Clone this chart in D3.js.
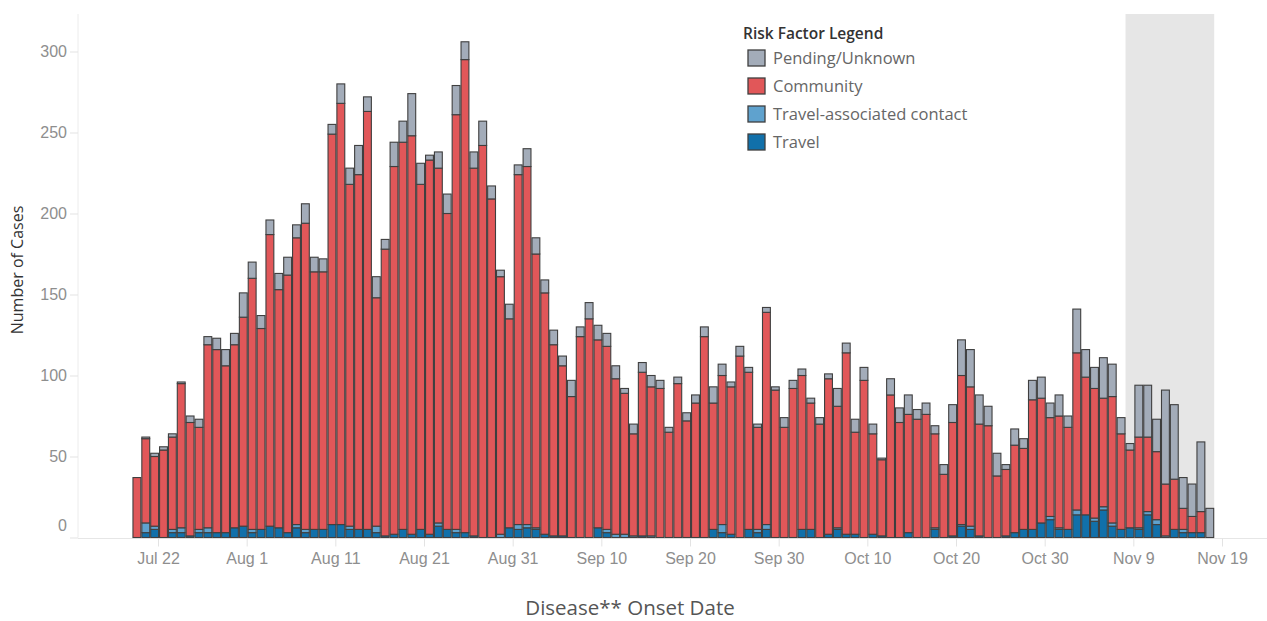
<!DOCTYPE html>
<html><head><meta charset="utf-8">
<script src="https://cdn.jsdelivr.net/npm/d3@7/dist/d3.min.js"></script>
<style>
html,body{margin:0;padding:0;background:#fff;}
svg{display:block;font-family:"Open Sans",sans-serif;}
</style></head>
<body>
<svg id="chart" width="1267" height="621"></svg>
<script>
// ---- data ----
const startDate = new Date(2020, 6, 20);   // Jul 20
const endDate = new Date(2020, 10, 19);    // exclusive (last bar Nov 18)
const travel = [0,3,5,0,3,3,1,3,3,3,3,6,7,3,5,7,6,3,6,3,5,5,8,8,5,5,5,3,1,2,5,2,5,2,7,5,3,3,1,0,0,0,6,5,6,5,2,1,1,0,0,0,6,3,0,0,0,1,0,0,0,0,0,0,0,5,3,2,0,5,3,5,0,0,0,5,5,0,2,5,2,2,0,2,1,0,0,3,0,0,5,0,1,7,5,1,0,0,1,3,5,5,9,11,5,5,14,14,10,17,7,5,6,5,14,8,0,5,3,3,3,0];
const travelContact = [0,6,2,0,2,3,0,2,3,0,0,0,0,2,0,0,0,0,2,2,0,0,0,0,2,0,0,4,0,0,0,0,0,0,2,0,2,0,0,0,0,2,0,3,2,1,0,0,0,0,0,0,0,2,2,2,1,0,1,0,0,0,0,0,0,0,5,0,0,0,2,3,0,0,0,0,0,0,0,1,0,0,0,0,0,0,0,0,0,0,1,0,0,1,2,0,0,0,0,0,0,0,0,2,1,0,3,0,2,2,2,0,0,1,2,3,1,0,2,0,0,0];
const community = [37,52,43,54,57,89,70,63,113,113,103,113,129,155,124,180,147,159,177,189,159,159,241,260,211,219,258,141,177,227,239,246,213,231,219,195,256,292,227,242,209,159,129,216,221,169,149,118,105,87,124,135,116,113,96,87,63,101,92,92,65,95,72,83,124,78,92,91,112,97,63,131,91,68,92,95,78,70,96,75,112,63,97,62,47,88,71,73,73,76,58,39,70,92,86,69,69,38,41,54,50,80,77,61,69,63,97,85,80,67,78,59,48,56,46,42,32,31,13,10,13,0];
const pending = [0,1,2,2,2,1,4,5,5,7,10,7,15,10,8,9,10,11,8,12,9,8,6,12,10,18,9,13,6,15,13,26,13,3,10,12,18,11,10,15,8,4,9,6,11,10,8,9,6,10,6,10,9,8,8,3,6,6,7,5,3,4,5,5,6,10,7,3,6,3,2,3,2,6,5,4,3,4,3,11,6,8,8,6,1,10,9,12,6,7,5,6,11,22,23,18,12,14,3,10,6,12,13,9,13,7,27,17,13,25,20,10,4,32,32,20,58,46,19,20,43,18];
const seriesNames = ["Travel","Travel-associated contact","Community","Pending/Unknown"];
const seriesColors = ["#1170aa","#5fa2ce","#e15759","#a3acb9"];
const tickDates = [[2020,6,22],[2020,7,1],[2020,7,11],[2020,7,21],[2020,7,31],[2020,8,10],[2020,8,20],[2020,8,30],[2020,9,10],[2020,9,20],[2020,9,30],[2020,10,9],[2020,10,19]];
const tickLabels = ["Jul 22","Aug 1","Aug 11","Aug 21","Aug 31","Sep 10","Sep 20","Sep 30","Oct 10","Oct 20","Oct 30","Nov 9","Nov 19"];
const yTicks = [0,50,100,150,200,250,300];
const shadeStart = new Date(2020, 10, 9);  // incomplete-data period
const shadeEnd = new Date(2020, 10, 18);

// ---- build ----
const dates = d3.timeDay.range(startDate, endDate);
const keys = ["travel","tac","community","pending"];
const rows = dates.map((d,i)=>({date:d, travel:travel[i], tac:travelContact[i], community:community[i], pending:pending[i]}));
const stacked = d3.stack().keys(keys)(rows);

const svg = d3.select("#chart");
const plotTop = 14, plotBottom = 537.5, plotLeft = 78;

const x = d3.scaleTime()
  .domain([new Date(2020,6,22), new Date(2020,10,19)])
  .range([158, 1222]);
const dayW = x(new Date(2020,6,23)) - x(new Date(2020,6,22));
const barCenter = d => x(d) - 0.38*dayW;

const y = d3.scaleLinear().domain([0,300]).range([plotBottom, 51.5]);

// shaded region
svg.append("rect")
  .attr("x", barCenter(shadeStart) - dayW/2)
  .attr("y", plotTop)
  .attr("width", barCenter(shadeEnd) + dayW/2 - (barCenter(shadeStart) - dayW/2))
  .attr("height", plotBottom - plotTop)
  .attr("fill", "#e6e6e6");

// axes lines
svg.append("line").attr("x1",plotLeft).attr("x2",plotLeft).attr("y1",plotTop).attr("y2",plotBottom)
  .attr("stroke","#ececec").attr("stroke-width",1);
svg.append("line").attr("x1",plotLeft).attr("x2",1267).attr("y1",plotBottom+1).attr("y2",plotBottom+1)
  .attr("stroke","#e6e6e6").attr("stroke-width",1);

// bars
const barW = dayW;
svg.append("g").selectAll("g").data(stacked).join("g")
  .attr("fill",(s,i)=>seriesColors[i])
  .selectAll("rect").data(s=>s.filter(p=>p[1]-p[0]>0)).join("rect")
  .attr("x", p=>barCenter(p.data.date)-barW/2+0.5)
  .attr("width", barW-1)
  .attr("y", p=>y(p[1]))
  .attr("height", p=>y(p[0])-y(p[1]))
  .attr("stroke","#3f3f3f")
  .attr("stroke-width",1.1);

// y axis
const yAxis = d3.axisLeft(y).tickValues(yTicks).tickSize(8).tickPadding(3);
const gy = svg.append("g").attr("transform",`translate(${plotLeft},0)`).call(yAxis);
gy.select(".domain").remove();
gy.selectAll(".tick line").attr("stroke","#e3e3e3");
gy.selectAll(".tick text").attr("fill","#8e8e8e").style("font-size","16px")
  .attr("dy", d=> d===0 ? "-0.42em" : "0.32em");

// x axis
const xAxis = d3.axisBottom(x)
  .tickValues(tickDates.map(t=>new Date(t[0],t[1],t[2])))
  .tickFormat((d,i)=>tickLabels[i]).tickSize(8).tickPadding(6);
const gx = svg.append("g").attr("transform",`translate(0,${plotBottom+1})`).call(xAxis);
gx.select(".domain").remove();
gx.selectAll(".tick line").attr("stroke","#e3e3e3");
gx.selectAll(".tick text").attr("fill","#8e8e8e").style("font-size","16px");

// axis titles
svg.append("text").attr("x",630).attr("y",615).attr("text-anchor","middle")
  .attr("fill","#555").style("font-size","20.5px").text("Disease** Onset Date");
svg.append("text").attr("transform","translate(23,270) rotate(-90)").attr("text-anchor","middle")
  .attr("fill","#333").style("font-size","16px").text("Number of Cases");

// legend
const lg = svg.append("g");
lg.append("text").attr("x",743).attr("y",39).attr("fill","#333")
  .style("font-size","15.5px").style("font-weight","600").text("Risk Factor Legend");
const legendOrder = [3,2,1,0];
legendOrder.forEach((si,j)=>{
  const cy = 58 + j*28;
  lg.append("rect").attr("x",748).attr("y",cy-8).attr("width",17).attr("height",16)
    .attr("fill",seriesColors[si]).attr("stroke","#3f3f3f").attr("stroke-width",1.3);
  lg.append("text").attr("x",773).attr("y",cy+5.5).attr("fill","#666")
    .style("font-size","16.5px").text(seriesNames[si]);
});
</script>
</body></html>
